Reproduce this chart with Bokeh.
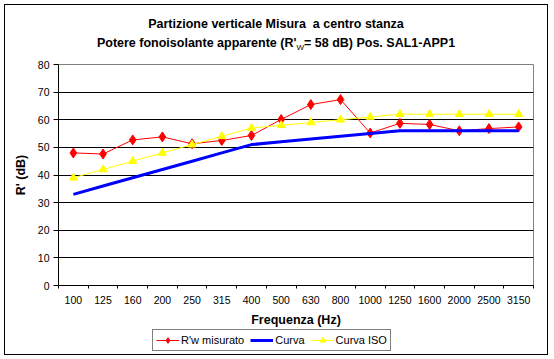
from bokeh.plotting import figure
from bokeh.models import (Range1d, FixedTicker, Legend, LegendItem, ColumnDataSource, Div)
from bokeh.layouts import column
from bokeh.embed import file_html
from bokeh.resources import INLINE

freqs = ["100", "125", "160", "200", "250", "315", "400", "500", "630", "800",
         "1000", "1250", "1600", "2000", "2500", "3150"]
misurato = [48.0, 47.6, 52.7, 53.8, 51.3, 52.5, 54.3, 60.1, 65.5, 67.3,
            55.2, 58.7, 58.3, 56.0, 56.8, 57.4]
curva = [33, 36, 39, 42, 45, 48, 51, 52, 53, 54, 55, 56, 56, 56, 56, 56]
curva_iso = [39, 42, 45, 48, 51, 54, 57, 58, 59, 60, 61, 62, 62, 62, 62, 62]
y_ticks = [0, 10, 20, 30, 40, 50, 60, 70, 80]
series_names = ["R'w misurato", "Curva", "Curva ISO"]
title_1 = "Partizione verticale Misura &nbsp;a centro stanza"
title_2a = "Potere fonoisolante apparente (R'"
title_2sub = "W"
title_2b = "= 58 dB) Pos. SAL1-APP1"

idx = list(range(len(freqs)))
src = ColumnDataSource(dict(x=idx, mis=misurato, cur=curva, iso=curva_iso))

FONT = "Liberation Sans"
RED, BLUE, YELLOW = "#FF0000", "#0000FF", "#FFFF00"
W = 542

title_div = Div(
    text=(f'<div style="width:{W}px;text-align:center;font-family:\'{FONT}\';font-weight:bold;'
          f'font-size:12.5px;line-height:19px;padding-top:10px;color:black">'
          f'{title_1}<br>{title_2a}<span style="font-size:8px;font-weight:normal;'
          f'position:relative;top:3px">{title_2sub}</span>{title_2b}</div>'),
    width=W, height=51, margin=(0, 0, 0, 0))

p = figure(width=W, height=273, output_backend="svg", toolbar_location=None,
           x_range=Range1d(-0.5, len(freqs) - 0.5), y_range=Range1d(0, 80),
           min_border_left=53, min_border_top=8, min_border_right=14, min_border_bottom=44,
           title=None, margin=(0, 0, 0, 0))
p.background_fill_color = "white"
p.border_fill_color = "white"
p.outline_line_color = "#808080"
p.outline_line_width = 1

# grid
p.xgrid.grid_line_color = None
p.ygrid.grid_line_color = "black"
p.ygrid.grid_line_width = 1
p.ygrid.ticker = FixedTicker(ticks=y_ticks)

# y axis
p.yaxis.ticker = FixedTicker(ticks=y_ticks)
p.yaxis.axis_line_color = "black"
p.yaxis.major_tick_out = 5
p.yaxis.major_tick_in = 0
p.yaxis.minor_tick_line_color = None
p.yaxis.major_label_text_font = FONT
p.yaxis.major_label_text_font_size = "10.5px"
p.yaxis.major_label_text_color = "black"
p.yaxis.major_label_standoff = 4
p.yaxis.axis_label = "R' (dB)"
p.yaxis.axis_label_text_font = FONT
p.yaxis.axis_label_text_font_size = "12.5px"
p.yaxis.axis_label_text_font_style = "bold"
p.yaxis.axis_label_text_color = "black"
p.yaxis.axis_label_standoff = 7

# x axis: labels at category centres, tick marks at category boundaries
bounds = [i - 0.5 for i in range(len(freqs) + 1)]
p.xaxis.ticker = FixedTicker(ticks=idx, minor_ticks=bounds)
p.xaxis.major_label_overrides = {i: f for i, f in zip(idx, freqs)}
p.xaxis.major_tick_out = 0
p.xaxis.major_tick_in = 0
p.xaxis.minor_tick_out = 3
p.xaxis.minor_tick_in = 0
p.xaxis.minor_tick_line_color = "black"
p.xaxis.axis_line_color = "black"
p.xaxis.major_label_text_font = FONT
p.xaxis.major_label_text_font_size = "10.5px"
p.xaxis.major_label_text_color = "black"
p.xaxis.major_label_standoff = 7
p.xaxis.axis_label = "Frequenza (Hz)"
p.xaxis.axis_label_text_font = FONT
p.xaxis.axis_label_text_font_size = "12.5px"
p.xaxis.axis_label_text_font_style = "bold"
p.xaxis.axis_label_text_color = "black"
p.xaxis.axis_label_standoff = 6

# series
def add_series(fig):
    a = fig.line("x", "mis", source=src, line_color=RED, line_width=1)
    b = fig.scatter("x", "mis", source=src, marker="diamond", size=10, fill_color=RED, line_color=RED)
    c = fig.line("x", "cur", source=src, line_color=BLUE, line_width=3)
    d = fig.line("x", "iso", source=src, line_color=YELLOW, line_width=1)
    e = fig.scatter("x", "iso", source=src, marker="triangle", size=8, fill_color=YELLOW, line_color=YELLOW)
    return a, b, c, d, e

add_series(p)

# legend strip: a small figure (data lie outside its ranges) that only shows the legend
lg = figure(width=W, height=25, output_backend="svg", toolbar_location=None,
            x_range=Range1d(-0.5, len(freqs) - 0.5), y_range=Range1d(-2, -1),
            x_axis_type=None, y_axis_type=None, title=None, margin=(0, 0, 0, 0),
            min_border_left=53, min_border_right=14, min_border_top=0, min_border_bottom=0)
lg.outline_line_color = None
lg.xgrid.grid_line_color = None
lg.ygrid.grid_line_color = None
lg.background_fill_color = "white"
lg.border_fill_color = "white"
l_mis_l, l_mis_m, l_cur, l_iso_l, l_iso_m = add_series(lg)

legend = Legend(items=[
    LegendItem(label=series_names[0], renderers=[l_mis_l, l_mis_m]),
    LegendItem(label=series_names[1], renderers=[l_cur]),
    LegendItem(label=series_names[2], renderers=[l_iso_l, l_iso_m]),
], orientation="horizontal", location=(94, 3))
legend.margin = 0
legend.padding = 3
legend.spacing = 6
legend.glyph_width = 23
legend.glyph_height = 14
legend.label_height = 14
legend.label_standoff = 2
legend.label_text_font = FONT
legend.label_text_font_size = "11px"
legend.label_text_color = "black"
legend.border_line_color = "black"
legend.border_line_width = 1
legend.background_fill_color = "white"
legend.background_fill_alpha = 1
lg.add_layout(legend)

layout = column(title_div, p, lg, spacing=0,
                styles={"margin-left": "5px", "margin-top": "5px",
                        "outline": "1px solid black",
                        "box-shadow": "0 0 0 1px black",
                        "background-color": "white"})

open("out.html", "w").write(file_html(layout, INLINE))
